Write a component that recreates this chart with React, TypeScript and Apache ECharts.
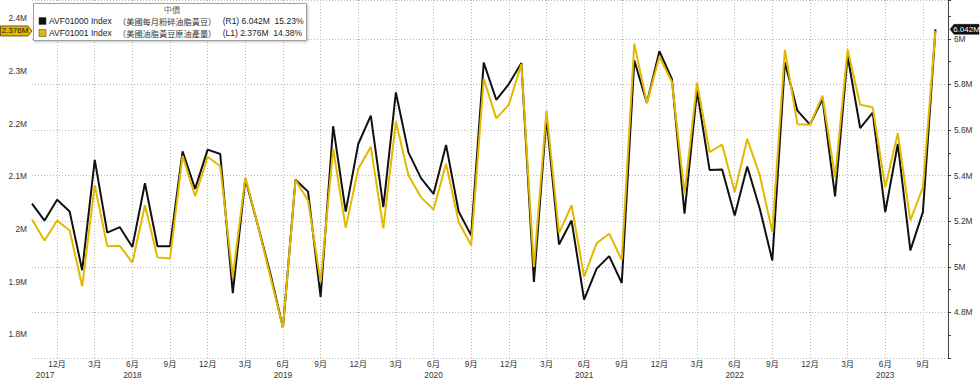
import React, { useEffect, useRef } from "react";
import * as echarts from "echarts";

// Monthly categories (last one is the axis end, no data)
const months = [
  "2017-10", "2017-11", "2017-12",
  "2018-01", "2018-02", "2018-03", "2018-04", "2018-05", "2018-06", "2018-07", "2018-08", "2018-09", "2018-10", "2018-11", "2018-12",
  "2019-01", "2019-02", "2019-03", "2019-04", "2019-05", "2019-06", "2019-07", "2019-08", "2019-09", "2019-10", "2019-11", "2019-12",
  "2020-01", "2020-02", "2020-03", "2020-04", "2020-05", "2020-06", "2020-07", "2020-08", "2020-09", "2020-10", "2020-11", "2020-12",
  "2021-01", "2021-02", "2021-03", "2021-04", "2021-05", "2021-06", "2021-07", "2021-08", "2021-09", "2021-10", "2021-11", "2021-12",
  "2022-01", "2022-02", "2022-03", "2022-04", "2022-05", "2022-06", "2022-07", "2022-08", "2022-09", "2022-10", "2022-11", "2022-12",
  "2023-01", "2023-02", "2023-03", "2023-04", "2023-05", "2023-06", "2023-07", "2023-08", "2023-09", "2023-10", "2023-11",
];

// AVF01000 Index (美國每月粉碎油脂黃豆), right axis, millions
const crushR1 = [
  5.277, 5.203, 5.294,
  5.243, 4.985, 5.469, 5.150, 5.174, 5.087, 5.367, 5.090, 5.090, 5.507, 5.342, 5.514,
  5.495, 4.885, 5.385, 5.182, 4.970, 4.733, 5.382, 5.330, 4.868, 5.617, 5.242, 5.539,
  5.663, 5.262, 5.765, 5.502, 5.389, 5.320, 5.535, 5.243, 5.138, 5.896, 5.733, 5.802,
  5.894, 4.934, 5.656, 5.098, 5.203, 4.856, 4.992, 5.047, 4.929, 5.906, 5.719, 5.946,
  5.823, 5.233, 5.772, 5.425, 5.427, 5.225, 5.440, 5.255, 5.028, 5.896, 5.685, 5.624,
  5.736, 5.309, 5.926, 5.609, 5.677, 5.240, 5.539, 5.072, 5.240, 6.042,
];

// AVF01001 Index (美國油脂黃豆原油產量), left axis, millions
const oilL1 = [
  2.018, 1.978, 2.016,
  1.997, 1.891, 2.083, 1.967, 1.968, 1.936, 2.045, 1.946, 1.944, 2.139, 2.062, 2.137,
  2.119, 1.909, 2.098, 2.007, 1.909, 1.812, 2.093, 2.054, 1.899, 2.152, 2.002, 2.114,
  2.156, 2.001, 2.204, 2.102, 2.060, 2.037, 2.124, 2.013, 1.969, 2.285, 2.210, 2.236,
  2.313, 1.928, 2.225, 1.992, 2.045, 1.909, 1.973, 1.991, 1.941, 2.352, 2.239, 2.327,
  2.279, 2.067, 2.278, 2.146, 2.160, 2.070, 2.171, 2.102, 1.994, 2.340, 2.199, 2.198,
  2.253, 2.098, 2.341, 2.236, 2.231, 2.079, 2.182, 2.016, 2.079, 2.376,
];

const legendTitle = "中價";
const seriesNames = ["AVF01000 Index", "AVF01001 Index"];
const seriesDesc = ["（美國每月粉碎油脂黃豆）", "（美國油脂黃豆原油產量）"];
const seriesAxis = ["(R1)", "(L1)"];
const seriesLast = ["6.042M", "2.376M"];
const seriesPct = ["15.23%", "14.38%"];

const BLACK = "#111111";
const GOLD = "#e3b900";
const FONT = "'Liberation Sans', Arial, 'Noto Sans CJK TC', sans-serif";
const CJK = "'Noto Sans CJK TC', 'Noto Sans CJK SC', sans-serif";

export default function App() {
  const ref = useRef<HTMLDivElement>(null);

  useEffect(() => {
    const chart = echarts.init(ref.current!, null, { renderer: "svg" });

    const fmtM = (v: number) => {
      const r = Math.round(v * 10) / 10;
      if (Math.abs(v - r) > 1e-6) return "";
      return (Math.abs(r - Math.round(r)) < 1e-9 ? r.toFixed(0) : r.toFixed(1)) + "M";
    };
    const isQuarter = (idx: number) => {
      const m = +months[idx].slice(5);
      return m % 3 === 0;
    };
    const firstYear = months[0].slice(0, 4);

    chart.setOption({
      animation: false,
      backgroundColor: "#ffffff",
      grid: { left: 32, right: 32, top: -1, bottom: 22, containLabel: false },
      xAxis: {
        type: "category",
        data: months,
        boundaryGap: false,
        axisLine: { show: false },
        axisTick: { show: false },
        splitLine: {
          show: true,
          interval: (i: number) => isQuarter(i),
          lineStyle: { color: "#b8b8b8", type: [1, 2], width: 1 },
        },
        axisLabel: {
          interval: (i: number) => isQuarter(i),
          margin: 0,
          formatter: (value: string) => {
            const [ys, ms] = value.split("-");
            const m = +ms;
            const ml = `{m|${m}月}`;
            if (m === 6) return `${ml}\n{y|${ys}}`;
            if (ys === firstYear && m === 12) return `${ml}\n{y0|${ys}}`;
            return ml;
          },
          rich: {
            m: { fontSize: 8.3, fontFamily: FONT, color: "#333", lineHeight: 11 },
            y: { fontSize: 8.3, fontFamily: FONT, color: "#333", lineHeight: 11 },
            y0: { fontSize: 8.3, fontFamily: FONT, color: "#333", lineHeight: 11, padding: [0, 24, 0, 0] },
          },
        },
      },
      yAxis: [
        {
          type: "value",
          position: "left",
          min: 1.7549,
          max: 2.4348,
          splitNumber: 6,
          axisLine: { show: false },
          axisTick: { show: false },
          splitLine: { show: false },
          axisLabel: {
            formatter: fmtM,
            showMinLabel: false,
            showMaxLabel: false,
            margin: 5,
            color: "#333",
            fontSize: 8.3,
            fontFamily: FONT,
          },
        },
        {
          type: "value",
          position: "right",
          min: 4.6,
          max: 6.1707,
          interval: 0.2,
          axisLine: { show: true, lineStyle: { color: "#444", width: 1 } },
          axisTick: { show: true, length: 3, lineStyle: { color: "#444" } },
          minorTick: { show: true, splitNumber: 2, length: 3, lineStyle: { color: "#444" } },
          splitLine: { show: true, lineStyle: { color: "#b8b8b8", type: [1, 2], width: 1 } },
          axisLabel: {
            formatter: fmtM,
            showMinLabel: false,
            showMaxLabel: false,
            margin: 6,
            color: "#333",
            fontSize: 8.3,
            fontFamily: FONT,
          },
        },
      ],
      series: [
        {
          name: seriesNames[0],
          type: "line",
          yAxisIndex: 1,
          data: crushR1,
          symbol: "none",
          lineStyle: { color: BLACK, width: 2 },
          z: 2,
        },
        {
          name: seriesNames[1],
          type: "line",
          yAxisIndex: 0,
          data: oilL1,
          symbol: "none",
          lineStyle: { color: GOLD, width: 2 },
          z: 3,
        },
      ],
    });

    const yR = chart.convertToPixel({ yAxisIndex: 1 }, crushR1[crushR1.length - 1]) as number;
    const yL = chart.convertToPixel({ yAxisIndex: 0 }, oilL1[oilL1.length - 1]) as number;

    const row = (i: number, y: number, color: string) => [
      {
        type: "rect",
        shape: { x: 39, y: y - 3.5, width: 7, height: 7 },
        style: { fill: color, stroke: "#333", lineWidth: 0.5 },
        z: 101,
      },
      {
        type: "text",
        x: 49,
        y,
        style: {
          text: `{a|${seriesNames[i]} }{c|${seriesDesc[i]}}{a| ${seriesAxis[i]} ${seriesLast[i]}  ${seriesPct[i]}}`,
          rich: {
            a: { fontSize: 8.5, fontFamily: FONT, fill: "#222", lineHeight: 9 },
            c: { fontSize: 8.2, fontFamily: CJK, fill: "#333", lineHeight: 9, padding: [0, 4, 0, 4] },
          },
          textAlign: "left",
          align: "left",
          textVerticalAlign: "middle",
          verticalAlign: "middle",
        },
        z: 101,
      },
    ];

    chart.setOption({
      graphic: [
        {
          type: "rect",
          shape: { x: 33.5, y: 3.5, width: 273, height: 37 },
          style: {
            fill: "#ffffff",
            stroke: "#a0a0a0",
            lineWidth: 1,
            shadowBlur: 2,
            shadowOffsetX: 1,
            shadowOffsetY: 1,
            shadowColor: "rgba(0,0,0,0.25)",
          },
          z: 100,
        },
        {
          type: "text",
          x: 172,
          y: 9,
          style: {
            text: legendTitle,
            fontSize: 8.2,
            fontFamily: CJK,
            fill: "#666",
            lineHeight: 9,
            textAlign: "center",
            align: "center",
            textVerticalAlign: "middle",
            verticalAlign: "middle",
          },
          z: 101,
        },
        ...row(0, 21, BLACK),
        ...row(1, 33, GOLD),
        // left value tag (yellow series)
        {
          type: "polygon",
          shape: { points: [[0.5, yL - 5], [28, yL - 5], [32, yL], [28, yL + 5], [0.5, yL + 5]] },
          style: { fill: GOLD, stroke: "#4a3d00", lineWidth: 0.8 },
          z: 110,
        },
        {
          type: "text",
          x: 15,
          y: yL,
          style: {
            text: seriesLast[1],
            fontSize: 8,
            fontFamily: FONT,
            fill: "#111",
            textAlign: "center",
            align: "center",
            textVerticalAlign: "middle",
            verticalAlign: "middle",
          },
          z: 111,
        },
        // right value tag (black series)
        {
          type: "polygon",
          shape: { points: [[950, yR], [954, yR - 5], [979, yR - 5], [979, yR + 5], [954, yR + 5]] },
          style: { fill: "#111", stroke: "#111", lineWidth: 0.5 },
          z: 110,
        },
        {
          type: "text",
          x: 966.5,
          y: yR,
          style: {
            text: seriesLast[0],
            fontSize: 8,
            fontFamily: FONT,
            fill: "#fff",
            textAlign: "center",
            align: "center",
            textVerticalAlign: "middle",
            verticalAlign: "middle",
          },
          z: 111,
        },
      ],
    });

    return () => {
      chart.dispose();
    };
  }, []);

  return (
    <div
      ref={ref}
      style={{ position: "fixed", left: 0, top: 0, width: 980, height: 380, background: "#fff" }}
    />
  );
}
